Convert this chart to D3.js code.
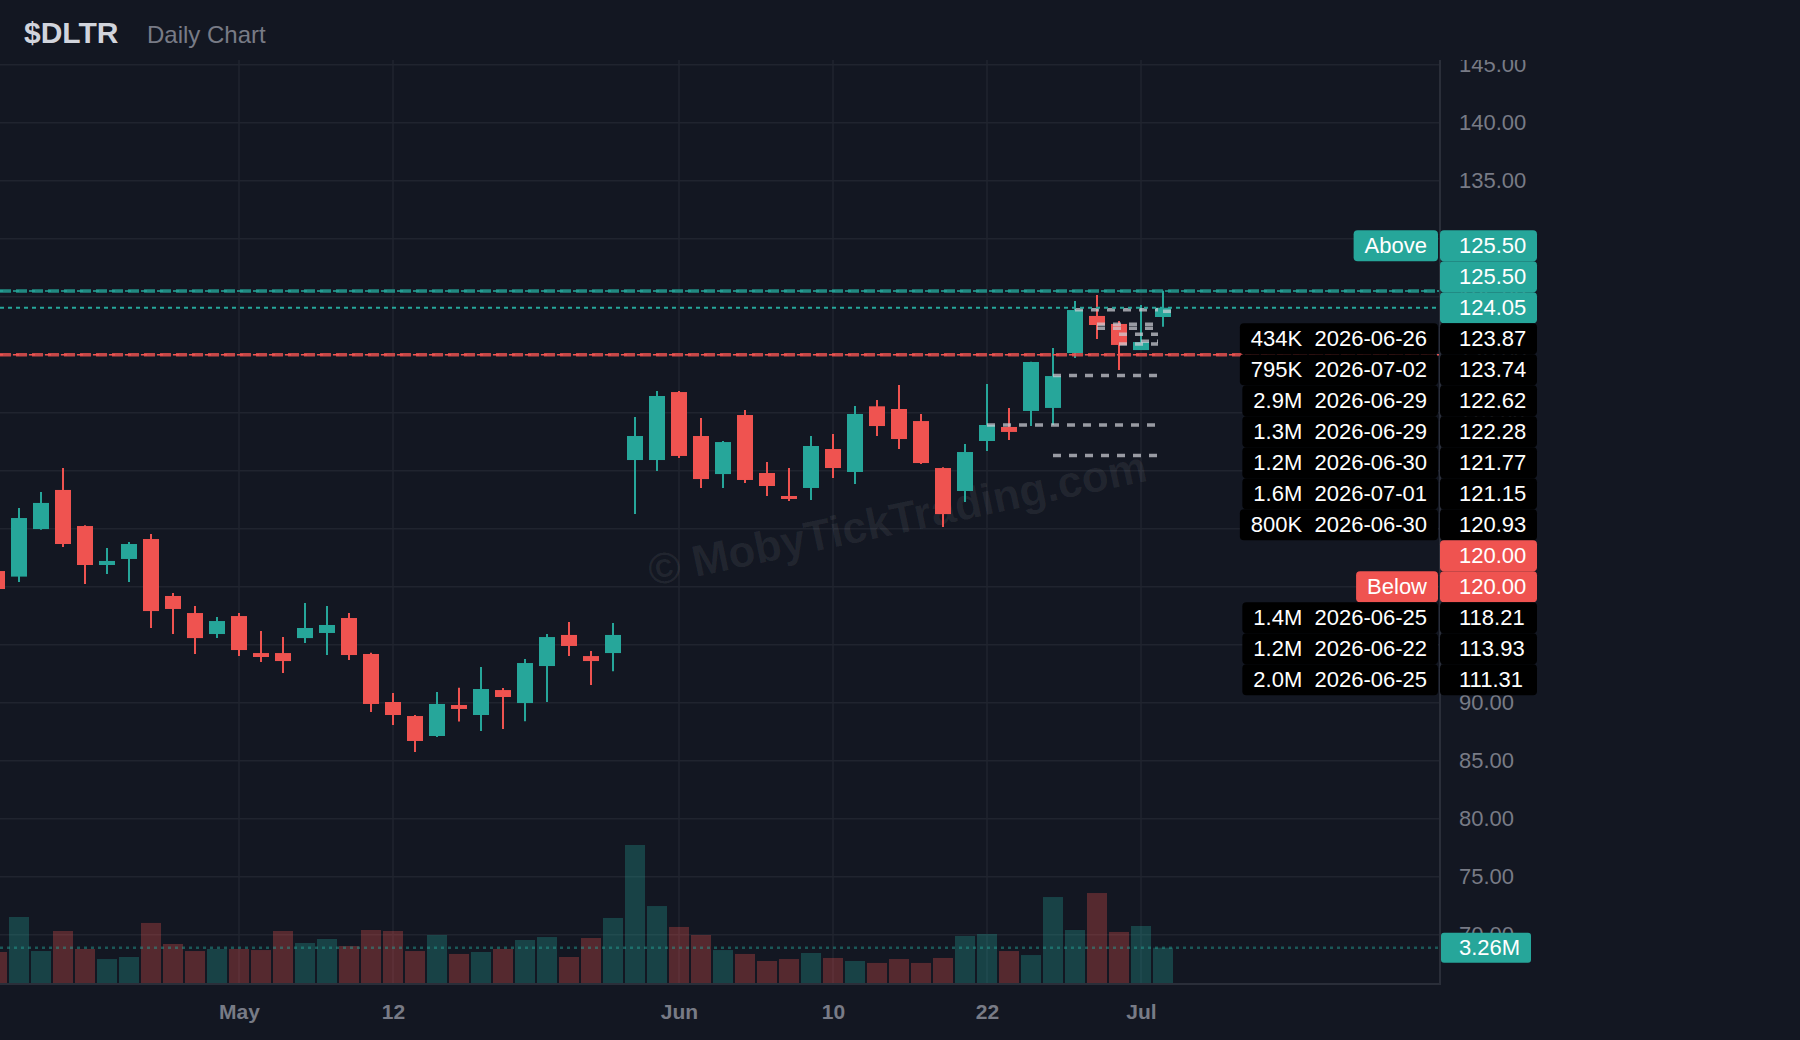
<!DOCTYPE html>
<html>
<head>
<meta charset="utf-8">
<script src="https://cdn.jsdelivr.net/npm/d3@7"></script>
<style>
  html, body { margin: 0; padding: 0; background: #131722; }
  svg { display: block; font-family: "Liberation Sans", Arial, sans-serif; }
</style>
</head>
<body>
<svg id="chart"></svg>
<script>
// datos del grafico diario
const dates = [
  "2026-04-16","2026-04-17","2026-04-20","2026-04-21","2026-04-22","2026-04-23","2026-04-24","2026-04-27","2026-04-28","2026-04-29","2026-04-30",
  "2026-05-01","2026-05-04","2026-05-05","2026-05-06","2026-05-07","2026-05-08","2026-05-11","2026-05-12","2026-05-13","2026-05-14","2026-05-15",
  "2026-05-18","2026-05-19","2026-05-20","2026-05-21","2026-05-22","2026-05-26","2026-05-27","2026-05-28","2026-05-29",
  "2026-06-01","2026-06-02","2026-06-03","2026-06-04","2026-06-05","2026-06-08","2026-06-09","2026-06-10","2026-06-11","2026-06-12",
  "2026-06-15","2026-06-16","2026-06-17","2026-06-18","2026-06-22","2026-06-23","2026-06-24","2026-06-25","2026-06-26","2026-06-29","2026-06-30",
  "2026-07-01","2026-07-02"
];
const opens = [101.35,100.87,104.97,108.34,105.23,101.87,102.39,104.11,99.20,97.73,95.92,
  97.47,94.28,94.28,95.57,96.01,97.30,94.20,90.06,88.85,87.13,89.80,
  88.94,91.09,89.97,93.16,95.84,94.02,94.28,110.92,110.92,
  116.78,112.99,109.71,114.80,109.80,107.82,108.51,111.87,109.89,115.55,
  115.32,114.28,110.23,108.25,112.56,113.77,115.15,115.41,120.14,123.34,122.65,
  120.40,123.25];
const highs = [101.70,106.78,108.16,110.23,105.30,103.34,103.85,104.54,99.46,98.34,97.39,
  97.73,96.18,95.66,98.59,98.34,97.73,94.30,90.84,88.94,90.93,91.29,
  93.07,91.26,93.77,95.92,96.96,94.45,96.87,114.63,116.87,
  116.87,114.54,112.56,115.23,110.75,110.23,112.99,113.16,115.58,116.09,
  117.39,114.89,110.30,112.30,117.47,115.41,119.40,120.58,124.63,125.15,122.90,
  124.28,125.52];
const lows = [99.40,100.41,104.90,103.42,100.23,101.10,100.41,96.44,95.92,94.20,95.57,
  94.02,93.51,92.56,95.14,94.11,93.68,89.20,88.08,85.75,87.04,88.37,
  87.56,87.73,88.40,90.06,94.02,91.52,92.72,106.26,109.97,
  111.09,108.51,108.51,108.94,107.82,107.39,107.47,109.37,108.85,112.99,
  111.87,110.58,105.15,107.30,111.70,112.65,113.85,113.94,119.71,121.35,118.68,
  120.40,122.41];
const closes = [99.80,105.92,107.22,103.68,101.87,102.22,103.68,97.90,98.08,95.57,97.04,
  94.54,93.94,93.59,96.44,96.70,94.11,89.89,88.94,86.70,89.89,89.46,
  91.18,90.49,93.42,95.66,94.89,93.59,95.84,112.99,116.44,
  111.27,109.28,112.47,109.20,108.68,107.56,112.13,110.23,114.89,113.85,
  112.73,110.66,106.26,111.61,113.94,113.34,119.37,118.16,123.85,122.56,120.84,
  121.09,124.05];
const volumes = [2.86,6.09,2.95,4.80,3.14,2.21,2.40,5.54,3.60,2.95,
  3.14,3.14,3.04,4.80,3.69,4.06,3.41,4.89,4.80,2.95,
  4.43,2.68,2.86,3.14,3.97,4.24,2.40,4.15,6.00,12.73,
  7.10,5.17,4.43,3.04,2.68,2.03,2.21,2.77,2.31,2.03,
  1.85,2.21,1.85,2.31,4.34,4.52,2.95,2.58,7.93,4.89,
  8.30,4.71,5.26,3.26].map(v => v * 1e6);

// ejes
const priceTicks = d3.range(70, 146, 5);
const tickDates = ["2026-05-01","2026-05-12","2026-06-01","2026-06-10","2026-06-22","2026-07-01"];
const tickLabels = ["May","12","Jun","10","22","Jul"];

// niveles con volumen
const levelPrices = [123.87,123.74,122.62,122.28,121.77,121.15,120.93,118.21,113.93,111.31];
const levelVols = [434e3,795e3,2.9e6,1.3e6,1.2e6,1.6e6,800e3,1.4e6,1.2e6,2.0e6];
const levelDates = ["2026-06-26","2026-07-02","2026-06-29","2026-06-29","2026-06-30","2026-07-01","2026-06-30","2026-06-25","2026-06-22","2026-06-25"];

// alertas
const aboveAlert = 125.50, highAlert = 125.50, lowAlert = 120.00, belowAlert = 120.00;

const W = 1800, H = 1040;
const plot = { left: 0, right: 1440, top: 60, bottom: 984 };
const UP = "#26a69a", DOWN = "#ef5350";

const svg = d3.select("#chart").attr("width", W).attr("height", H);
svg.append("rect").attr("width", W).attr("height", H).attr("fill", "#131722");

const x = d3.scaleLinear().domain([0, dates.length - 1]).range([-3, -3 + 22 * (dates.length - 1)]);
const y = d3.scaleLinear().domain([70, 145]).range([934.7, 64.7]);
const yVol = d3.scaleLinear().domain([0, d3.max(volumes)]).range([983, 845]);
const idx = d => dates.indexOf(d);

svg.append("defs").append("clipPath").attr("id", "plotClip")
  .append("rect").attr("x", plot.left).attr("y", plot.top)
  .attr("width", plot.right - plot.left).attr("height", plot.bottom - plot.top);
svg.select("defs").append("clipPath").attr("id", "axisClip")
  .append("rect").attr("x", plot.right).attr("y", plot.top).attr("width", 360).attr("height", plot.bottom - plot.top);

const g = svg.append("g").attr("clip-path", "url(#plotClip)");

// rejilla
g.append("g").selectAll("line").data(priceTicks).join("line")
  .attr("x1", plot.left).attr("x2", plot.right)
  .attr("y1", d => y(d)).attr("y2", d => y(d))
  .attr("stroke", "#20242f").attr("stroke-width", 1.5);
g.append("g").selectAll("line").data(tickDates).join("line")
  .attr("x1", d => x(idx(d))).attr("x2", d => x(idx(d)))
  .attr("y1", plot.top).attr("y2", plot.bottom)
  .attr("stroke", "#20242f").attr("stroke-width", 1.5);

// marca de agua
g.append("text")
  .attr("transform", "translate(898,522) rotate(-12)")
  .attr("text-anchor", "middle").attr("dominant-baseline", "middle")
  .attr("font-size", 44).attr("font-weight", "bold")
  .attr("fill", "rgba(255,255,255,0.065)")
  .text("\u00a9 MobyTickTrading.com");

// volumen
g.append("g").selectAll("rect").data(volumes).join("rect")
  .attr("x", (d, i) => x(i) - 10).attr("width", 20)
  .attr("y", d => yVol(d)).attr("height", d => yVol(0) - yVol(d))
  .attr("fill", (d, i) => closes[i] >= opens[i] ? UP : DOWN)
  .attr("fill-opacity", 0.3);

const lastVol = volumes[volumes.length - 1];
g.append("line")
  .attr("x1", plot.left).attr("x2", plot.right)
  .attr("y1", yVol(lastVol)).attr("y2", yVol(lastVol))
  .attr("stroke", UP).attr("stroke-opacity", 0.45)
  .attr("stroke-width", 2.5).attr("stroke-dasharray", "3 4");

// velas
const candles = g.append("g").selectAll("g").data(dates).join("g");
candles.append("line")
  .attr("x1", (d, i) => x(i)).attr("x2", (d, i) => x(i))
  .attr("y1", (d, i) => y(highs[i])).attr("y2", (d, i) => y(lows[i]))
  .attr("stroke", (d, i) => closes[i] >= opens[i] ? UP : DOWN)
  .attr("stroke-width", 2);
candles.append("rect")
  .attr("x", (d, i) => x(i) - 8).attr("width", 16)
  .attr("y", (d, i) => y(Math.max(opens[i], closes[i])))
  .attr("height", (d, i) => Math.max(2, Math.abs(y(opens[i]) - y(closes[i]))))
  .attr("fill", (d, i) => closes[i] >= opens[i] ? UP : DOWN);

// lineas de niveles (grises)
const lastX = x(dates.length - 1);
g.append("g").selectAll("line").data(levelPrices).join("line")
  .attr("x1", (d, i) => x(idx(levelDates[i])))
  .attr("x2", (d, i) => Math.max(x(idx(levelDates[i])) + 8, lastX - 5))
  .attr("y1", d => y(d)).attr("y2", d => y(d))
  .attr("stroke", "rgba(205,207,214,0.72)").attr("stroke-width", 3.5)
  .attr("stroke-dasharray", "8 8");

// lineas de alerta
function alertLine(price, color) {
  g.append("line").attr("x1", plot.left).attr("x2", plot.right)
    .attr("y1", y(price)).attr("y2", y(price))
    .attr("stroke", color).attr("stroke-width", 3.5).attr("stroke-opacity", 0.8)
    .attr("stroke-dasharray", "11 5");
  g.append("line").attr("x1", plot.left).attr("x2", plot.right)
    .attr("y1", y(price)).attr("y2", y(price))
    .attr("stroke", color).attr("stroke-width", 1.5)
    .attr("stroke-dasharray", "6 10").attr("stroke-dashoffset", 3);
}
alertLine(aboveAlert, UP);
alertLine(lowAlert, DOWN);

const lastClose = closes[closes.length - 1];
g.append("line").attr("x1", plot.left).attr("x2", plot.right)
  .attr("y1", y(lastClose)).attr("y2", y(lastClose))
  .attr("stroke", UP).attr("stroke-width", 2).attr("stroke-dasharray", "4 4");

// bordes
svg.append("line").attr("x1", plot.right).attr("x2", plot.right)
  .attr("y1", plot.top).attr("y2", plot.bottom + 1)
  .attr("stroke", "#2a2e39").attr("stroke-width", 2);
svg.append("line").attr("x1", 0).attr("x2", plot.right)
  .attr("y1", plot.bottom).attr("y2", plot.bottom)
  .attr("stroke", "#2a2e39").attr("stroke-width", 2);

// eje de precios
const yAxis = svg.append("g")
  .attr("clip-path", "url(#axisClip)")
  .append("g")
  .attr("transform", `translate(${plot.right},0)`)
  .call(d3.axisRight(y).tickValues(priceTicks).tickFormat(d3.format(".2f")).tickSize(0).tickPadding(19));
yAxis.select(".domain").remove();
yAxis.selectAll("text").attr("fill", "#787b86").attr("font-size", 22)
  .attr("font-family", "Liberation Sans, Arial, sans-serif");

// eje de fechas
const xAxis = svg.append("g")
  .attr("transform", `translate(0,${plot.bottom})`)
  .call(d3.axisBottom(x).tickValues(tickDates.map(idx)).tickFormat((d, i) => tickLabels[i]).tickSize(0).tickPadding(20));
xAxis.select(".domain").remove();
xAxis.selectAll("text").attr("fill", "#787b86").attr("font-size", 21).attr("font-weight", "bold")
  .attr("font-family", "Liberation Sans, Arial, sans-serif");

// etiquetas de la derecha
const fmtVol = v => v < 1e6 ? Math.round(v / 1e3) + "K" : (v / 1e6).toFixed(1) + "M";
let labels = [
  { price: aboveAlert, fill: UP, tag: "Above" },
  { price: highAlert, fill: UP },
  { price: lastClose, fill: UP, anchor: true },
  ...levelPrices.map((p, i) => ({ price: p, fill: "#000", info: fmtVol(levelVols[i]) + "\u00a0\u00a0" + levelDates[i] })),
  { price: lowAlert, fill: DOWN },
  { price: belowAlert, fill: DOWN, tag: "Below" }
];
labels.sort((a, b) => b.price - a.price);
const step = 31;
const a = labels.findIndex(d => d.anchor);
labels.forEach(d => d.y = y(d.price));
for (let i = a - 1; i >= 0; i--) labels[i].y = Math.min(labels[i].y, labels[i + 1].y - step);
for (let i = a + 1; i < labels.length; i++) labels[i].y = Math.max(labels[i].y, labels[i - 1].y + step);

const lab = svg.append("g").selectAll("g").data(labels).join("g")
  .attr("transform", d => `translate(0,${d.y})`)
  .attr("font-size", 22);

lab.each(function(d) {
  const el = d3.select(this);
  const side = d.tag || d.info;
  if (side) {
    const r = el.append("rect").attr("height", step).attr("y", -step / 2).attr("rx", 4)
      .attr("fill", d.tag ? d.fill : "#000");
    const t = el.append("text").attr("x", 1427).attr("dy", "0.35em")
      .attr("text-anchor", "end").attr("fill", "#fff").text(side);
    const bb = t.node().getBBox();
    r.attr("x", bb.x - 11).attr("width", 1438 - (bb.x - 11));
  }
  el.append("rect").attr("x", 1440).attr("y", -step / 2).attr("width", 97).attr("height", step)
    .attr("rx", 4).attr("fill", d.fill);
  el.append("text").attr("x", 1459).attr("dy", "0.35em").attr("fill", "#fff")
    .text(d3.format(".2f")(d.price));
});

// etiqueta del volumen
const vl = svg.append("g").attr("transform", `translate(0,${yVol(lastVol)})`);
vl.append("rect").attr("x", 1441).attr("y", -15).attr("width", 90).attr("height", 30)
  .attr("rx", 3).attr("fill", UP);
vl.append("text").attr("x", 1459).attr("dy", "0.35em").attr("fill", "#fff")
  .attr("font-size", 22).text(d3.format(".3s")(lastVol).replace("G", "B"));

// titulo
svg.append("text").attr("x", 24).attr("y", 42.5)
  .attr("font-size", 30).attr("font-weight", "bold").attr("fill", "#d1d4dc").text("$DLTR");
svg.append("text").attr("x", 147).attr("y", 42.5)
  .attr("font-size", 24).attr("fill", "#787b86").text("Daily Chart");
</script>
</body>
</html>
